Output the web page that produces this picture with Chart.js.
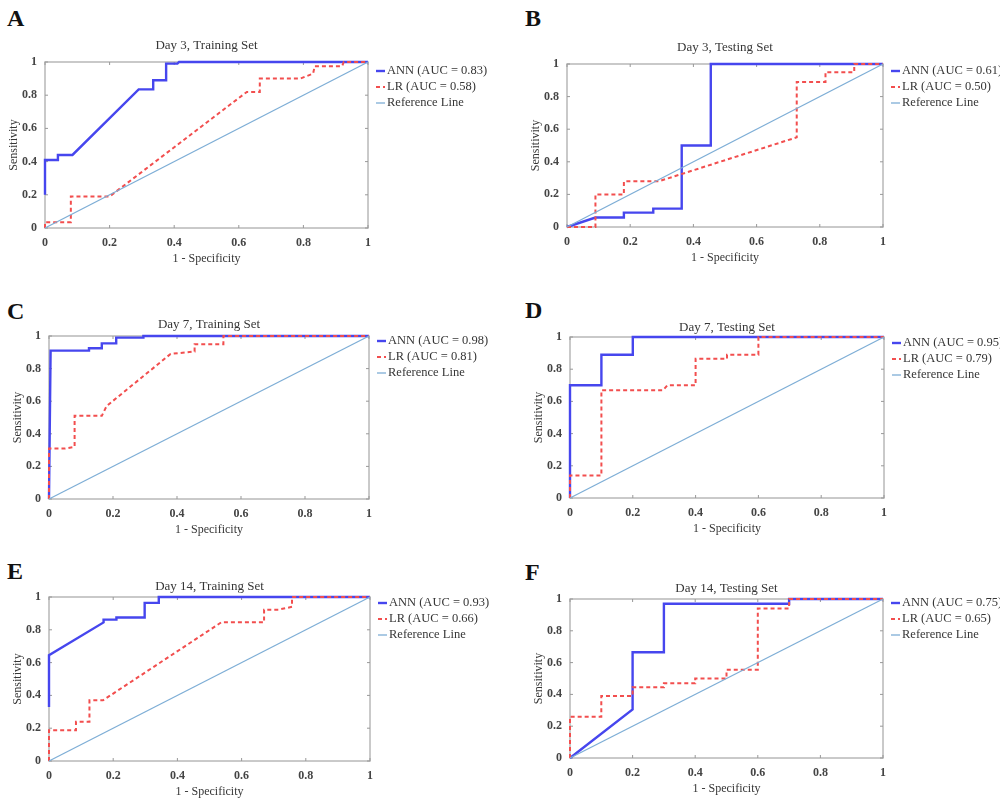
<!DOCTYPE html>
<html>
<head>
<meta charset="utf-8">
<script src="https://cdn.jsdelivr.net/npm/chart.js@4.4.1/dist/chart.umd.min.js"></script>
<style>
  html, body { margin: 0; padding: 0; background: #fff; }
  #fig { position: relative; width: 1000px; height: 810px; overflow: hidden; }
  #fig canvas { position: absolute; }
  .letter { position: absolute; font: bold 24px 'Liberation Serif', serif; line-height: 24px; color: #111; }
</style>
</head>
<body>
<div id="fig"></div>
<script>
// ROC points as [1 - specificity, sensitivity]
const annA = [[0, 0.2], [0, 0.41], [0.04, 0.41], [0.04, 0.44], [0.085, 0.44], [0.29, 0.835], [0.335, 0.835], [0.335, 0.89], [0.375, 0.89], [0.375, 0.99], [0.41, 0.99], [0.415, 1], [1, 1]];
const lrA = [[0, 0], [0, 0.035], [0.08, 0.035], [0.08, 0.19], [0.2, 0.19], [0.625, 0.82], [0.665, 0.82], [0.665, 0.9], [0.79, 0.9], [0.83, 0.93], [0.835, 0.975], [0.92, 0.975], [0.925, 1], [1, 1]];

const annB = [[0, 0], [0.09, 0.058], [0.18, 0.058], [0.18, 0.088], [0.273, 0.088], [0.273, 0.113], [0.363, 0.113], [0.363, 0.5], [0.455, 0.5], [0.455, 1], [1, 1]];
const lrB = [[0, 0], [0.09, 0], [0.09, 0.2], [0.18, 0.2], [0.18, 0.28], [0.29, 0.28], [0.727, 0.55], [0.727, 0.89], [0.818, 0.89], [0.818, 0.95], [0.909, 0.95], [0.909, 1], [1, 1]];

const annC = [[0, 0], [0.005, 0.91], [0.125, 0.91], [0.125, 0.925], [0.165, 0.925], [0.165, 0.955], [0.21, 0.955], [0.21, 0.99], [0.295, 0.99], [0.295, 1], [1, 1]];
const lrC = [[0, 0], [0, 0.31], [0.05, 0.31], [0.08, 0.32], [0.08, 0.51], [0.165, 0.51], [0.18, 0.57], [0.38, 0.89], [0.455, 0.905], [0.455, 0.95], [0.545, 0.95], [0.545, 1], [1, 1]];

const annD = [[0, 0], [0, 0.7], [0.1, 0.7], [0.1, 0.89], [0.2, 0.89], [0.2, 1], [1, 1]];
const lrD = [[0, 0], [0, 0.14], [0.1, 0.14], [0.1, 0.67], [0.297, 0.67], [0.31, 0.7], [0.4, 0.7], [0.4, 0.865], [0.5, 0.865], [0.5, 0.89], [0.6, 0.89], [0.6, 1], [1, 1]];

const annE = [[0, 0.33], [0, 0.645], [0.17, 0.845], [0.17, 0.862], [0.21, 0.862], [0.21, 0.875], [0.298, 0.875], [0.298, 0.964], [0.342, 0.964], [0.342, 1], [1, 1]];
const lrE = [[0, 0], [0, 0.188], [0.084, 0.188], [0.084, 0.24], [0.126, 0.24], [0.126, 0.37], [0.168, 0.37], [0.537, 0.846], [0.67, 0.846], [0.67, 0.923], [0.715, 0.923], [0.757, 0.94], [0.757, 1], [1, 1]];

const annF = [[0, 0], [0.2, 0.305], [0.2, 0.665], [0.3, 0.665], [0.3, 0.97], [0.7, 0.97], [0.7, 1], [1, 1]];
const lrF = [[0, 0], [0, 0.26], [0.1, 0.26], [0.1, 0.39], [0.2, 0.39], [0.2, 0.445], [0.3, 0.445], [0.3, 0.47], [0.4, 0.47], [0.4, 0.5], [0.5, 0.5], [0.5, 0.555], [0.6, 0.555], [0.6, 0.94], [0.7, 0.94], [0.7, 1], [1, 1]];

const referenceLine = [[0, 0], [1, 1]];

const panelLetters = ['A', 'B', 'C', 'D', 'E', 'F'];
const panelTitles = ['Day 3, Training Set', 'Day 3, Testing Set', 'Day 7, Training Set', 'Day 7, Testing Set', 'Day 14, Training Set', 'Day 14, Testing Set'];
const annAuc = ['0.83', '0.61', '0.98', '0.95', '0.93', '0.75'];
const lrAuc = ['0.58', '0.50', '0.81', '0.79', '0.66', '0.65'];
const annCurves = [annA, annB, annC, annD, annE, annF];
const lrCurves = [lrA, lrB, lrC, lrD, lrE, lrF];
const tickValues = [0, 0.2, 0.4, 0.6, 0.8, 1];
const tickLabels = ['0', '0.2', '0.4', '0.6', '0.8', '1'];

// layout: canvas origin, plot box [left, top, right, bottom] in page pixels
const panels = [
    { cx: 0,   cy: 0,   plot: [45, 62, 368, 228],  titleGap: 9, legendTop: 9, letterTop: 6 },
    { cx: 500, cy: 0,   plot: [567, 64, 883, 227], titleGap: 9, legendTop: 7, letterTop: 6 },
    { cx: 0,   cy: 270, plot: [49, 336, 369, 499], titleGap: 4, legendTop: 5, letterTop: 299 },
    { cx: 500, cy: 270, plot: [570, 337, 884, 498], titleGap: 2, legendTop: 6, letterTop: 298 },
    { cx: 0,   cy: 540, plot: [49, 597, 370, 761], titleGap: 3, legendTop: 6, letterTop: 559 },
    { cx: 500, cy: 540, plot: [570, 599, 883, 758], titleGap: 3, legendTop: 4, letterTop: 560 }
];

const W = 500, H = 270, Y_AXIS_W = 42, X_AXIS_H = 38;
const textColor = '#363636';

Chart.defaults.font.family = "'Liberation Serif', serif";

// frame, inward tick marks and the legend on the right
const rocFrame = {
    id: 'rocFrame',
    beforeDatasetsDraw(chart) {
        const { ctx, chartArea: a, scales: { x, y } } = chart;
        ctx.save();
        ctx.strokeStyle = '#b8b8b8';
        ctx.lineWidth = 1.5;
        ctx.strokeRect(a.left, a.top, a.width, a.height);
        ctx.strokeStyle = '#999';
        ctx.lineWidth = 1;
        tickValues.forEach(v => {
            const px = x.getPixelForValue(v);
            const py = y.getPixelForValue(v);
            ctx.beginPath();
            ctx.moveTo(px, a.bottom); ctx.lineTo(px, a.bottom - 3);
            ctx.moveTo(px, a.top); ctx.lineTo(px, a.top + 3);
            ctx.moveTo(a.left, py); ctx.lineTo(a.left + 3, py);
            ctx.moveTo(a.right, py); ctx.lineTo(a.right - 3, py);
            ctx.stroke();
        });
        ctx.restore();
    },
    afterDraw(chart, args, opts) {
        const { ctx, chartArea: a } = chart;
        ctx.save();
        ctx.font = "12.5px 'Liberation Serif', serif";
        ctx.textBaseline = 'middle';
        chart.data.datasets.forEach((ds, i) => {
            const yy = a.top + opts.top + i * 16;
            ctx.strokeStyle = ds.borderColor;
            ctx.lineWidth = ds.borderWidth;
            ctx.setLineDash(ds.borderDash || []);
            ctx.beginPath();
            ctx.moveTo(a.right + 8, yy);
            ctx.lineTo(a.right + 17, yy);
            ctx.stroke();
            ctx.setLineDash([]);
            ctx.fillStyle = textColor;
            ctx.fillText(ds.label, a.right + 19, yy);
        });
        ctx.restore();
    }
};

const toXY = pts => pts.map(p => ({ x: p[0], y: p[1] }));
const tickText = v => tickLabels[tickValues.indexOf(v)] ?? String(v);
const fig = document.getElementById('fig');

panels.forEach((p, i) => {
    const letter = document.createElement('div');
    letter.className = 'letter';
    letter.textContent = panelLetters[i];
    letter.style.left = (p.cx + (p.cx ? 25 : 7)) + 'px';
    letter.style.top = p.letterTop + 'px';
    fig.appendChild(letter);

    const canvas = document.createElement('canvas');
    canvas.width = W;
    canvas.height = H;
    canvas.style.left = p.cx + 'px';
    canvas.style.top = p.cy + 'px';
    fig.appendChild(canvas);

    const [l, t, r, b] = p.plot;
    const titleH = 13 * 1.2 + p.titleGap;

    new Chart(canvas, {
        type: 'scatter',
        data: {
            datasets: [
                {
                    label: `ANN (AUC = ${annAuc[i]})`,
                    data: toXY(annCurves[i]),
                    showLine: true,
                    borderColor: '#4646ee',
                    borderWidth: 2.4,
                    pointRadius: 0,
                    clip: false,
                    order: 2
                },
                {
                    label: `LR (AUC = ${lrAuc[i]})`,
                    data: toXY(lrCurves[i]),
                    showLine: true,
                    borderColor: '#f24e4e',
                    borderWidth: 2,
                    borderDash: [4, 3],
                    pointRadius: 0,
                    clip: false,
                    order: 1
                },
                {
                    label: 'Reference Line',
                    data: toXY(referenceLine),
                    showLine: true,
                    borderColor: '#7eaed6',
                    borderWidth: 1.3,
                    pointRadius: 0,
                    clip: false,
                    order: 0
                }
            ]
        },
        options: {
            responsive: false,
            animation: false,
            events: [],
            layout: {
                padding: {
                    left: l - p.cx - Y_AXIS_W,
                    right: p.cx + W - r,
                    top: t - p.cy - titleH,
                    bottom: p.cy + H - b - X_AXIS_H
                }
            },
            plugins: {
                legend: { display: false },
                tooltip: { enabled: false },
                title: {
                    display: true,
                    text: panelTitles[i],
                    fullSize: false,
                    color: textColor,
                    font: { size: 13, weight: 'normal' },
                    padding: { top: 0, bottom: p.titleGap }
                },
                rocFrame: { top: p.legendTop }
            },
            scales: {
                x: {
                    type: 'linear',
                    min: 0,
                    max: 1,
                    grid: { display: false },
                    border: { display: false },
                    afterBuildTicks: s => { s.ticks = tickValues.map(v => ({ value: v })); },
                    afterFit: s => { s.height = X_AXIS_H; },
                    ticks: { padding: 0, maxRotation: 0, color: '#444', font: { size: 12, weight: 'bold' }, callback: tickText },
                    title: { display: true, text: '1 - Specificity', color: textColor, font: { size: 12 }, padding: { top: 0, bottom: 0 } }
                },
                y: {
                    type: 'linear',
                    min: 0,
                    max: 1,
                    grid: { display: false },
                    border: { display: false },
                    afterBuildTicks: s => { s.ticks = tickValues.map(v => ({ value: v })); },
                    afterFit: s => { s.width = Y_AXIS_W; },
                    ticks: { padding: 0, color: '#444', font: { size: 12, weight: 'bold' }, callback: tickText },
                    title: { display: true, text: 'Sensitivity', color: textColor, font: { size: 12 }, padding: { top: 4, bottom: 0 } }
                }
            }
        },
        plugins: [rocFrame]
    });
});
</script>
</body>
</html>
